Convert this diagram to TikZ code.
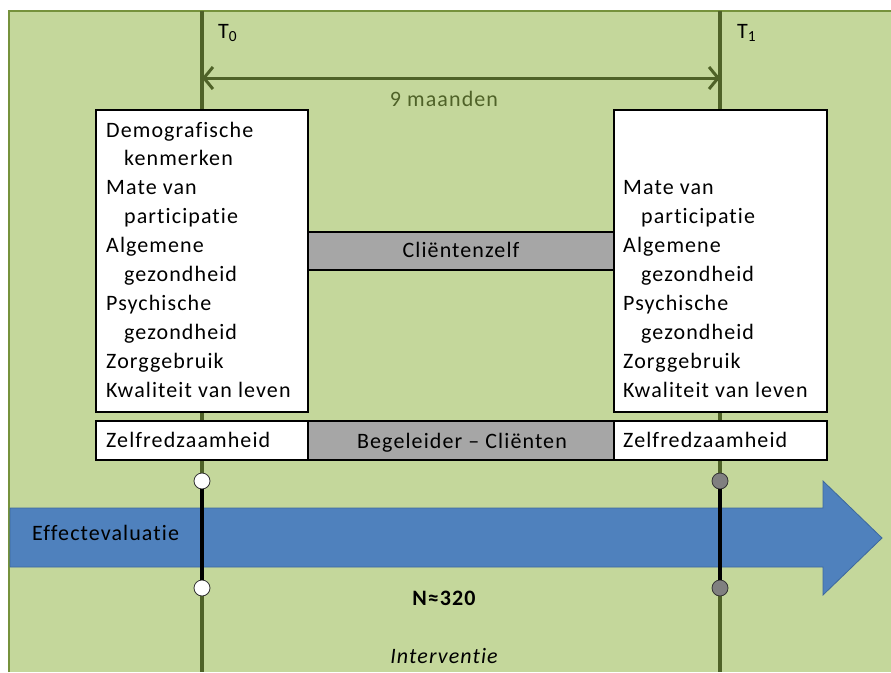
\documentclass[tikz,border=0pt]{standalone}
\usepackage{fontspec}
\setmainfont{Carlito}[Ligatures=NoCommon, LetterSpace=5]
\usepackage{xcolor}
\usetikzlibrary{arrows.meta,calc}

\definecolor{achtergrond}{RGB}{196,215,155}
\definecolor{rand}{RGB}{118,146,60}
\definecolor{donkergroen}{RGB}{79,98,40}
\definecolor{blauw}{RGB}{79,129,189}
\definecolor{blauwrand}{RGB}{60,104,158}
\definecolor{balkgrijs}{RGB}{166,166,166}
\definecolor{puntgrijs}{RGB}{128,128,128}

\tikzset{
  tijdlijn/.style={line width=4.5pt, draw=donkergroen},
  vak/.style={draw, fill=white, line width=1.2pt, outer sep=0pt, inner sep=0pt},
  balk/.style={vak, fill=balkgrijs},
  regel/.style={anchor=base west, inner sep=0pt},
  punt/.style={circle, draw=black!80, line width=0.8pt, minimum size=16pt, inner sep=0pt},
  meting/.style={line width=4.5pt, black},
}

\begin{document}
\begin{tikzpicture}[x=1pt,y=-1pt, font=\fontsize{22}{29}\selectfont]
\useasboundingbox (0,0) rectangle (891,672);
% achtergrond
\fill[achtergrond] (9,11) rectangle (891,672);
\draw[rand, line width=2pt] (9,672) -- (9,11) -- (891,11);

% meetmomenten
\draw[tijdlijn] (202,11) -- (202,672);
\draw[tijdlijn] (720,11) -- (720,672);
\node[regel] (t0) at (218,38) {T\textsubscript{0}};
\node[regel] (t1) at (737,38) {T\textsubscript{1}};

\coordinate (m0) at (202,78);
\coordinate (m1) at (720,78);
\draw[donkergroen, line width=3pt, {Straight Barb[length=9pt,width=22pt]}-{Straight Barb[length=9pt,width=22pt]}] (m0) -- (m1);
\node[anchor=base, inner sep=0pt, text=donkergroen] (duur) at (444,106) {9 maanden};

% blauwe pijl
\filldraw[fill=blauw, draw=blauwrand, line width=0.8pt]
  (10,508) -- (823,508) -- (823,481) -- (882,538) -- (823,595) -- (823,567) -- (10,567) -- cycle;
\node[regel] (effect) at (32,540) {Effectevaluatie};

% vragenlijsten
\node[vak, minimum width=212pt, minimum height=302pt, anchor=north west] (links) at (96,110) {};
\node[vak, minimum width=213pt, minimum height=302pt, anchor=north west] (rechts) at (614,110) {};
\node[balk, minimum width=306pt, minimum height=38pt, anchor=north west] (zelf) at (308,232) {};
\node[anchor=base, inner sep=0pt] (zelftekst) at (461,257) {Cliëntenzelf};

\foreach \ind/\txt [count=\i] in {0/Demografische, 18/kenmerken, 0/Mate van, 18/participatie,
    0/Algemene, 18/gezondheid, 0/Psychische, 18/gezondheid, 0/Zorggebruik, 0/Kwaliteit van leven}
  \node[regel] (l\i) at (106+\ind,137+28.9*\i-28.9) {\txt};

\foreach \ind/\txt [count=\i from 3] in {0/Mate van, 18/participatie,
    0/Algemene, 18/gezondheid, 0/Psychische, 18/gezondheid, 0/Zorggebruik, 0/Kwaliteit van leven}
  \node[regel] (r\i) at (623+\ind,137+28.9*\i-28.9) {\txt};

% onderste rij
\node[vak, minimum width=212pt, minimum height=39pt, anchor=north west] (zrl) at (96,421) {};
\node[balk, minimum width=306pt, minimum height=39pt, anchor=north west] (begel) at (308,421) {};
\node[vak, minimum width=213pt, minimum height=39pt, anchor=north west] (zrr) at (614,421) {};
\node[regel] (zrltekst) at (106,447) {Zelfredzaamheid};
\node[regel] (zrrtekst) at (623,447) {Zelfredzaamheid};
\node[anchor=base, inner sep=0pt] (begeltekst) at (462,448) {Begeleider – Cliënten};

% metingen
\node[punt, fill=white] (a0) at (202,481) {};
\node[punt, fill=white] (b0) at (202,588) {};
\node[punt, fill=puntgrijs] (a1) at (720,481) {};
\node[punt, fill=puntgrijs] (b1) at (720,588) {};
\draw[meting] (a0) -- (b0);
\draw[meting] (a1) -- (b1);

\node[anchor=base, inner sep=0pt, font=\fontsize{22}{29}\selectfont\bfseries] (n) at (444,605) {N≈320};
\node[anchor=base, inner sep=0pt, font=\fontsize{22}{29}\selectfont\itshape] (interventie) at (444,663) {Interventie};
\end{tikzpicture}
\end{document}
